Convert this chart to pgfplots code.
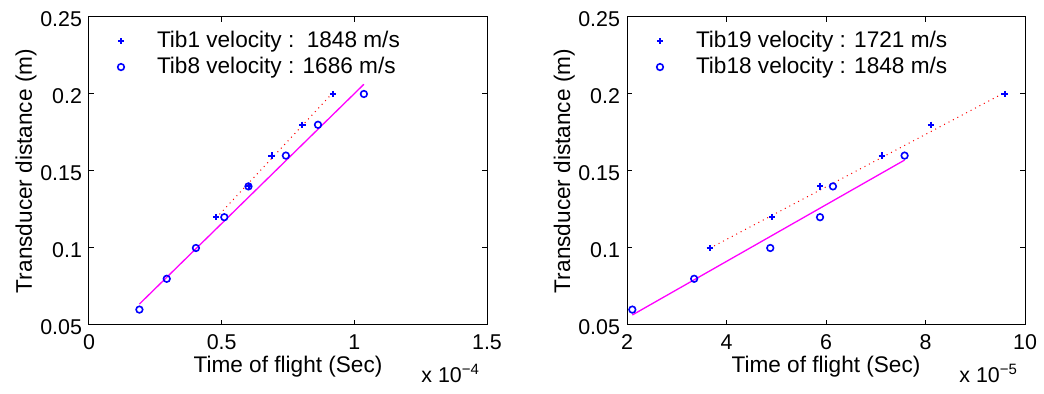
\documentclass[border=0pt]{standalone}
\usepackage{fontspec}
\setmainfont{Liberation Sans}
\usepackage{pgfplots}
\pgfplotsset{compat=1.18}
\definecolor{mblue}{RGB}{0,0,255}
\definecolor{mmag}{RGB}{255,0,255}
\definecolor{mred}{RGB}{255,0,0}
\newcommand{\legbox}{\pgfpathmoveto{\pgfpoint{0pt}{0pt}}\pgfpathlineto{\pgfpoint{17pt}{0pt}}\pgfusepath{use as bounding box}}
\pgfplotsset{
  mstyle/.style={
    scale only axis, width=199pt, height=154pt,
    ymin=0.05, ymax=0.25,
    ytick={0.05,0.1,0.15,0.2,0.25},
    yticklabels={0.05,0.1,0.15,0.2,0.25},
    tick align=inside, major tick length=2.5pt,
    axis line style={line width=0.5pt},
    every tick/.style={black, line width=0.5pt},
    tick label style={font=\fontsize{10.7}{12}\selectfont},
    xticklabel style={anchor=base, yshift=-12.5pt},
    yticklabel style={yshift=-1.2pt},
    /pgf/number format/assume math mode=true,
    xtick pos=both, ytick pos=both,
    ylabel={Transducer distance (m)},
    xlabel={Time of flight (Sec)},
    label style={font=\fontsize{11.3}{13}\selectfont},
    xlabel style={at={(axis description cs:0.5,0)}, anchor=base, yshift=-24pt},
    ylabel style={at={(axis description cs:0,0.5)}, anchor=base, yshift=28.5pt},
    legend cell align=left,
    legend style={draw=none, fill=none, at={(0,1)}, anchor=north west,
      xshift=10pt, yshift=-7.3pt, inner sep=0pt, outer sep=0pt,
      nodes={inner sep=0pt, outer sep=0pt},
      column sep=0pt, row sep=3.2pt,
      /tikz/every odd column/.style={column sep=7pt},
      font=\fontsize{11.3}{13}\selectfont},
    clip=false,
  },
  plusm/.style={only marks, mark=+, mark size=1.6pt, color=mblue,
    mark options={draw=mblue, line width=1pt},
    legend image code/.code={\legbox \draw[draw=mblue, line width=1pt] plot[only marks, mark=+, mark size=1.6pt] coordinates {(6pt,0pt)};}},
  circm/.style={only marks, mark=o, mark size=1.65pt, color=mblue,
    mark options={draw=mblue, line width=0.8pt},
    legend image code/.code={\legbox \draw[draw=mblue, line width=0.8pt] plot[only marks, mark=o, mark size=1.65pt] coordinates {(6pt,0pt)};}},
}
\begin{document}
\begin{tikzpicture}
\path[use as bounding box] (-44.5pt,-34.5pt) rectangle (477.5pt,162.5pt);
\begin{axis}[mstyle, xmin=0, xmax=1.5,
  xtick={0,0.5,1,1.5}, xticklabels={0,0.5,1,1.5}]
\addplot[mred, dotted, line width=0.5pt, forget plot] coordinates {(0.479,0.1195) (0.920,0.2010)};
\addplot[mmag, line width=0.65pt, forget plot] coordinates {(0.190,0.0636) (1.036,0.2063)};
\addplot[plusm] coordinates {(0.479,0.12) (0.603,0.14) (0.688,0.16) (0.804,0.18) (0.920,0.2)};
\addlegendentry{Tib1 velocity :\ \ 1848 m/s}
\addplot[circm] coordinates {(0.190,0.06) (0.293,0.08) (0.403,0.1) (0.510,0.12) (0.601,0.14) (0.742,0.16) (0.863,0.18) (1.036,0.2)};
\addlegendentry{Tib8 velocity : 1686 m/s}
\node[anchor=base east, font=\fontsize{10.7}{12}\selectfont] at (rel axis cs:1,0) [yshift=-28.8pt] {x 10\textsuperscript{−4}};
\end{axis}
\begin{axis}[mstyle, xshift=269pt, xmin=2, xmax=10,
  xtick={2,4,6,8,10}, xticklabels={2,4,6,8,10},
  legend style={xshift=0.5pt}]
\addplot[mred, dotted, line width=0.5pt, forget plot] coordinates {(3.663,0.0998) (9.59,0.2009)};
\addplot[mmag, line width=0.65pt, forget plot] coordinates {(2.107,0.0565) (7.58,0.1571)};
\addplot[plusm] coordinates {(3.663,0.1) (4.92,0.12) (5.88,0.14) (7.12,0.16) (8.11,0.18) (9.59,0.2)};
\addlegendentry{Tib19 velocity : 1721 m/s}
\addplot[circm] coordinates {(2.107,0.06) (3.35,0.08) (4.88,0.1) (5.88,0.12) (6.14,0.14) (7.58,0.16)};
\addlegendentry{Tib18 velocity : 1848 m/s}
\node[anchor=base east, font=\fontsize{10.7}{12}\selectfont] at (rel axis cs:1,0) [yshift=-28.8pt] {x 10\textsuperscript{−5}};
\end{axis}
\end{tikzpicture}
\end{document}
